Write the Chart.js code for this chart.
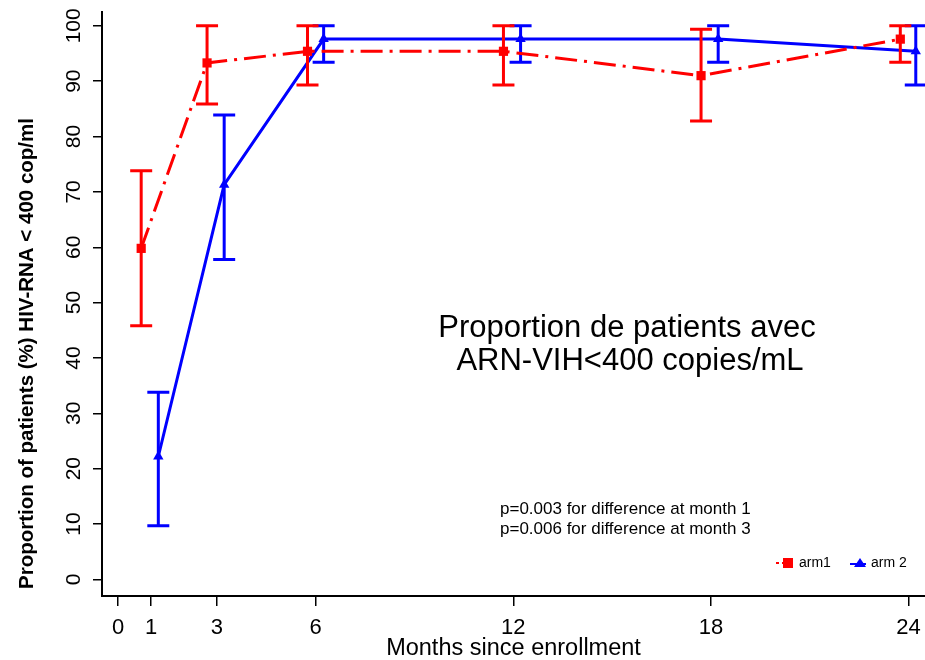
<!DOCTYPE html>
<html>
<head>
<meta charset="utf-8">
<script src="https://cdn.jsdelivr.net/npm/chart.js@4.4.0/dist/chart.umd.min.js"></script>
<style>
  body { margin: 0; background: #fff; }
  canvas { display: block; }
</style>
</head>
<body>
<canvas id="chart" width="925" height="660"></canvas>
<script>
const xTicks = [0, 1, 3, 6, 12, 18, 24]
const yTicks = [0, 10, 20, 30, 40, 50, 60, 70, 80, 90, 100]

// arm1 is drawn a little left of each visit, arm 2 a little right (dodged)
const arm1X = [0.7, 2.7, 5.75, 11.7, 17.7, 23.75]
const arm1Y = [59.8, 93.3, 95.4, 95.4, 91.0, 97.6]
const arm1Low = [45.8, 85.9, 89.3, 89.3, 82.8, 93.4]
const arm1High = [73.8, 100, 100, 100, 99.4, 100]

const arm2X = [1.22, 3.22, 6.24, 12.22, 18.22, 24.22]
const arm2Y = [22.2, 71.3, 97.6, 97.6, 97.6, 95.4]
const arm2Low = [9.7, 57.8, 93.4, 93.4, 93.4, 89.3]
const arm2High = [33.8, 83.9, 100, 100, 100, 100]

const FONT = "'Liberation Sans', Arial, sans-serif"
Chart.defaults.font.family = FONT
Chart.defaults.color = '#000'

const toPoints = (xs, ys) => xs.map((x, i) => ({ x: x, y: ys[i] }))

const errorBars = {
  id: 'errorBars',
  beforeDatasetDraw(chart, args) {
    const ds = chart.data.datasets[args.index]
    const { x, y } = chart.scales
    const ctx = chart.ctx
    ctx.save()
    ctx.strokeStyle = ds.borderColor
    ctx.lineWidth = 3
    ds.low.forEach((lo, i) => {
      const px = x.getPixelForValue(ds.data[i].x)
      const top = y.getPixelForValue(ds.high[i])
      const bot = y.getPixelForValue(lo)
      ctx.beginPath()
      ctx.moveTo(px, top)
      ctx.lineTo(px, bot)
      ctx.moveTo(px - 11, top)
      ctx.lineTo(px + 11, top)
      ctx.moveTo(px - 11, bot)
      ctx.lineTo(px + 11, bot)
      ctx.stroke()
    })
    ctx.restore()
  },
}

const notes = {
  id: 'notes',
  afterDraw(chart) {
    const ctx = chart.ctx
    ctx.save()
    ctx.fillStyle = '#000'

    // y axis title, drawn here so it can sit a bit off-centre like the original
    ctx.save()
    ctx.translate(27, 589)
    ctx.rotate(-Math.PI / 2)
    ctx.font = 'bold 20.5px ' + FONT
    ctx.textAlign = 'left'
    ctx.textBaseline = 'middle'
    ctx.fillText('Proportion of patients (%) HIV-RNA < 400 cop/ml', 0, 0)
    ctx.restore()

    ctx.textBaseline = 'alphabetic'
    ctx.font = '31px ' + FONT
    ctx.textAlign = 'center'
    ctx.fillText('Proportion de patients avec', 627, 337)
    ctx.fillText('ARN-VIH<400 copies/mL', 630, 370)

    ctx.font = '17px ' + FONT
    ctx.textAlign = 'left'
    ctx.fillText('p=0.003 for difference at month 1', 500, 514)
    ctx.fillText('p=0.006 for difference at month 3', 500, 534)

    // legend
    const ly = 563
    const [d1, d2] = chart.data.datasets
    ctx.lineWidth = 2
    ctx.strokeStyle = d1.borderColor
    ctx.setLineDash([3, 3])
    ctx.beginPath(); ctx.moveTo(776, ly); ctx.lineTo(786, ly); ctx.stroke()
    ctx.setLineDash([])
    ctx.fillStyle = d1.borderColor
    ctx.fillRect(783, ly - 5, 10, 10)

    ctx.strokeStyle = d2.borderColor
    ctx.beginPath(); ctx.moveTo(850, ly + 1); ctx.lineTo(866, ly + 1); ctx.stroke()
    ctx.fillStyle = d2.borderColor
    ctx.beginPath()
    ctx.moveTo(860, ly - 5); ctx.lineTo(866, ly + 4); ctx.lineTo(854, ly + 4)
    ctx.closePath(); ctx.fill()

    ctx.fillStyle = '#000'
    ctx.font = '14px ' + FONT
    ctx.textBaseline = 'middle'
    ctx.fillText('arm1', 799, ly)
    ctx.fillText('arm 2', 871, ly)
    ctx.restore()
  },
}

new Chart(document.getElementById('chart'), {
  type: 'line',
  data: {
    datasets: [
      {
        label: 'arm1',
        data: toPoints(arm1X, arm1Y),
        low: arm1Low,
        high: arm1High,
        borderColor: '#ff0000',
        backgroundColor: '#ff0000',
        borderWidth: 3,
        borderDash: [22, 7, 3, 7],
        pointStyle: 'rect',
        pointRadius: 6.5,
        pointBorderWidth: 0,
        tension: 0,
      },
      {
        label: 'arm 2',
        data: toPoints(arm2X, arm2Y),
        low: arm2Low,
        high: arm2High,
        borderColor: '#0000ff',
        backgroundColor: '#0000ff',
        borderWidth: 3,
        pointStyle: 'triangle',
        pointRadius: 6,
        pointBorderWidth: 0,
        tension: 0,
      },
    ],
  },
  options: {
    responsive: false,
    animation: false,
    devicePixelRatio: 1,
    layout: { autoPadding: false, padding: { top: 12, right: 0, left: 0, bottom: 0 } },
    plugins: {
      legend: { display: false },
      tooltip: { enabled: false },
    },
    scales: {
      x: {
        type: 'linear',
        min: -0.49,
        max: 24.5,
        afterBuildTicks: (s) => { s.ticks = xTicks.map((v) => ({ value: v })) },
        afterFit: (s) => {
          s.height = 64
          s.paddingLeft = 0
          s.paddingRight = 0
        },
        grid: { drawOnChartArea: false, tickLength: 10, color: '#000', lineWidth: 1.5 },
        border: { color: '#000', width: 2 },
        ticks: { font: { size: 22 }, padding: 9, maxRotation: 0, callback: (v) => String(v) },
        title: {
          display: true,
          text: 'Months since enrollment',
          font: { size: 23.5, lineHeight: 1 },
          padding: { top: 0, bottom: 0 },
        },
      },
      y: {
        min: -3,
        max: 102.5,
        afterBuildTicks: (s) => { s.ticks = yTicks.map((v) => ({ value: v })) },
        afterFit: (s) => {
          s.width = 102
          s.paddingTop = 0
          s.paddingBottom = 0
        },
        grid: { drawOnChartArea: false, tickLength: 9, color: '#000', lineWidth: 1.5 },
        border: { color: '#000', width: 2 },
        ticks: { font: { size: 21 }, padding: 1, minRotation: 90, crossAlign: 'center', callback: (v) => String(v) },
      },
    },
  },
  plugins: [errorBars, notes],
})
</script>
</body>
</html>
